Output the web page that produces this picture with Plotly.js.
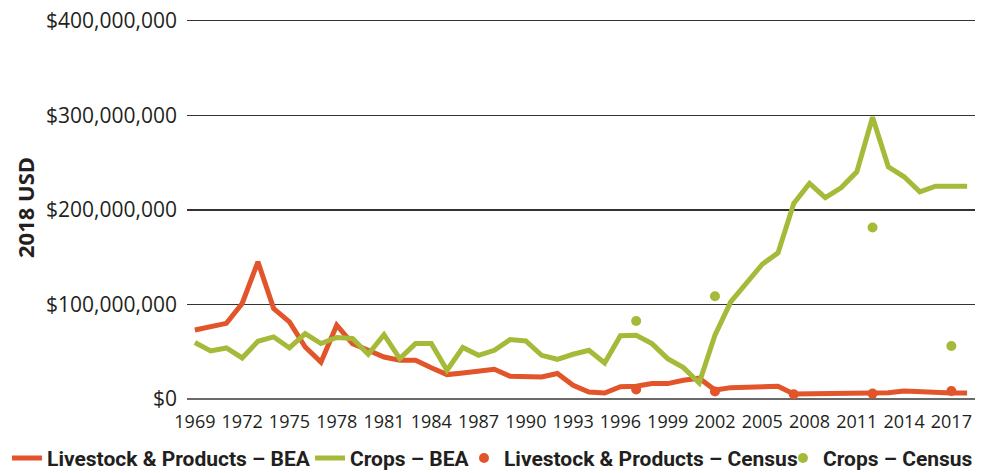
<!DOCTYPE html>
<html>
<head>
<meta charset="utf-8">
<script src="https://cdn.plot.ly/plotly-3.0.1.min.js"></script>
<style>html,body{margin:0;padding:0;background:#fff;}#chart{width:991px;height:473px;}</style>
</head>
<body>
<div id="chart"></div>
<script>
const years = [];
for (let y = 1969; y <= 2018; y++) years.push(y);

const livestockBEA = [73, 76, 80, 101, 145, 95.6, 81.5, 55, 39, 78,
  58.6, 51.5, 44.4, 41, 41, 33, 25.8, 27.5, 29.6, 31.5,
  24, 24, 23.3, 27, 14.5, 7.4, 6.4, 13, 13.4, 16.3,
  16.3, 19.8, 22, 9.5, 12, 12.5, 12.8, 13.5, 5.3, 5.3,
  5.3, 5.3, 5.5, 6.3, 6.5, 8.5, 7.5, 6.3, 6.3, 6.3];

const cropsBEA = [59.7, 50.8, 54, 43.4, 61, 65.6, 54, 69.2, 58.6, 65,
  64, 47.3, 68, 42.7, 58.6, 58.6, 30.4, 54.4, 46.2, 51.5,
  62.8, 61.4, 46.2, 42, 47.3, 51.5, 38, 67, 67.4, 58.6,
  42.7, 33.2, 17, 67.4, 102.6, 122.8, 142.5, 154.5, 206.8, 228,
  213, 223.3, 240.2, 298, 245.5, 235, 219, 225, 225, 225];

const censusYears = [1997, 2002, 2007, 2012, 2017];
const livestockCensus = [10, 8, 5, 5.7, 8.5];
const cropsCensusYears = [1997, 2002, 2012, 2017];
const cropsCensus = [82.5, 108.7, 181.4, 56];

const seriesNames = ['Livestock & Products – BEA', 'Crops – BEA',
  'Livestock & Products – Census', 'Crops – Census'];

const M = 1e6;
const toUSD = arr => arr.map(v => v * M);

const red = '#E2542A';
const green = '#A6BA3A';

const traces = [
  {x: years, y: toUSD(livestockBEA), mode: 'lines', name: seriesNames[0], legend: 'legend',
   line: {color: red, width: 5}},
  {x: years, y: toUSD(cropsBEA), mode: 'lines', name: seriesNames[1], legend: 'legend2',
   line: {color: green, width: 5}},
  {x: censusYears, y: toUSD(livestockCensus), mode: 'markers', name: seriesNames[2], legend: 'legend3',
   marker: {color: red, size: 10}},
  {x: cropsCensusYears, y: toUSD(cropsCensus), mode: 'markers', name: seriesNames[3], legend: 'legend4',
   marker: {color: green, size: 10}}
];

const legendFont = {family: 'Roboto, sans-serif', size: 21, weight: 700, color: '#231f20'};
function legendAt(x) {
  return {orientation: 'h', xref: 'paper', yref: 'paper', x: x, y: -0.155,
          xanchor: 'left', yanchor: 'middle', font: legendFont, bgcolor: 'rgba(0,0,0,0)'};
}

const layout = {
  width: 991, height: 473,
  margin: {l: 187, r: 16, t: 16, b: 74, pad: 0, autoexpand: false},
  paper_bgcolor: '#fff', plot_bgcolor: '#fff',
  font: {family: '"Open Sans", sans-serif', color: '#231f20'},
  showlegend: true,
  legend: legendAt(-0.2284),
  legend2: legendAt(0.1561),
  legend3: legendAt(0.3515),
  legend4: legendAt(0.7563),
  xaxis: {
    range: [1968.5, 2018.5], tick0: 1969, dtick: 3, tickmode: 'linear',
    showgrid: false, zeroline: false, showline: false,
    ticks: 'outside', ticklen: 6, tickcolor: 'rgba(0,0,0,0)',
    tickfont: {size: 18, color: '#231f20'}
  },
  yaxis: {
    range: [0, 4.05e8], tick0: 0, dtick: 1e8, tickprefix: '$', tickformat: ',d',
    showgrid: true, gridcolor: '#333', gridwidth: 1.3,
    zeroline: true, zerolinecolor: '#6a6a6a', zerolinewidth: 2.5,
    showline: false, ticks: '', ticklabelstandoff: 9,
    tickfont: {size: 21, color: '#231f20'},
    title: {text: '2018 USD', standoff: 5, font: {size: 22, weight: 700, color: '#231f20'}}
  }
};

Plotly.newPlot('chart', traces, layout, {displayModeBar: false, staticPlot: true});
</script>
</body>
</html>
